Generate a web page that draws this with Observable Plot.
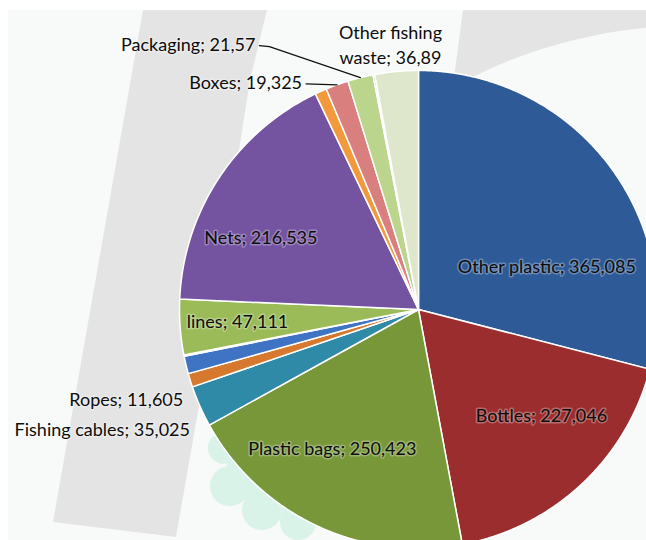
<!DOCTYPE html>
<html><head><meta charset="utf-8">
<script src="https://cdn.jsdelivr.net/npm/d3@7"></script>
<script src="https://cdn.jsdelivr.net/npm/@observablehq/plot@0.6"></script>
<style>body{margin:0;background:#fff;} #chart{width:646px;height:540px;overflow:hidden;}</style>
</head><body><div id="chart"></div>
<script>
// ---- data (clockwise from 12 o'clock) ----
const categories = ["Other plastic","Bottles","Plastic bags","Fishing cables","Ropes","Unlabeled 1","Unlabeled 2","lines","Nets","Unlabeled 3","Boxes","Packaging","Unlabeled 4","Other fishing waste"];
const values = [365085,227046,250423,35025,11605,15000,1000,47111,216535,10000,19325,21570,1500,36890];
const valueLabels = ["365,085","227,046","250,423","35,025","11,605","","","47,111","216,535","","19,325","21,57","","36,89"];
const colors = ["#2E5B98","#9B2D2E","#779739","#2E8AA6","#D7782F","#3F74C5","#C0504D","#9BBB59","#7453A1","#F29A3B","#D97F7D","#BBD58D","#8FC9EC","#DEE7CB"];

// ---- layout (pixels) ----
const W = 646, H = 540, CX = 418, CY = 309, RPX = 239;
const labelLayout = {
  "Other plastic":       {r: 0.6, dx: 15,   dy: 43,  anchor: "middle"},
  "Bottles":             {r: 0.6, dx: 25,   dy: 0,   anchor: "middle"},
  "Plastic bags":        {r: 0.6, dx: -25,  dy: 8,   anchor: "middle"},
  "Nets":                {r: 0.6, dx: -38,  dy: 6,   anchor: "middle"},
  "lines":               {r: 0.6, dx: -38,  dy: 0,   anchor: "middle"},
  "Ropes":               {r: 1.0, dx: -7,   dy: 18,  anchor: "end"},
  "Fishing cables":      {r: 1.0, dx: -10,  dy: 22,  anchor: "end"},
  "Boxes":               {r: 1.0, dx: -35,  dy: -4,  anchor: "end", leader: true},
  "Packaging":           {r: 1.0, dx: -105, dy: -35, anchor: "end", leader: true, elbow: 10},
  "Other fishing waste": {r: 1.0, dx: -6,   dy: -28, anchor: "middle", breakAfter: "Other fishing"}
};

const data = categories.map((c, i) => ({cat: c, value: values[i], vlabel: valueLabels[i]}));
const arcs = d3.pie().sort(null).value(d => d.value)(data);

// slice polygons in unit coordinates (y up)
const slicePts = [];
for (const a of arcs) {
  slicePts.push({cat: a.data.cat, x: 0, y: 0});
  const n = Math.max(2, Math.ceil((a.endAngle - a.startAngle) / 0.004));
  for (let k = 0; k <= n; k++) {
    const t = a.startAngle + (a.endAngle - a.startAngle) * k / n;
    slicePts.push({cat: a.data.cat, x: Math.sin(t), y: Math.cos(t)});
  }
}

const labelsMid = [], labelsEnd = [], leaders = [];
for (const a of arcs) {
  const L = labelLayout[a.data.cat];
  if (!L) continue;
  const mid = (a.startAngle + a.endAngle) / 2;
  const bx = Math.sin(mid) * L.r, by = Math.cos(mid) * L.r;
  const x = bx + L.dx / RPX, y = by - L.dy / RPX;
  let text = a.data.cat + "; " + a.data.vlabel;
  if (L.breakAfter) text = text.replace(L.breakAfter + " ", L.breakAfter + "\n");
  (L.anchor === "end" ? labelsEnd : labelsMid).push({x, y, text});
  if (L.leader) {
    const sx = x + 4 / RPX, sy = y - 3 / RPX;
    leaders.push({cat: a.data.cat, x: sx, y: sy});
    if (L.elbow) leaders.push({cat: a.data.cat, x: sx + L.elbow / RPX, y: sy - 1 / RPX});
    leaders.push({cat: a.data.cat, x: bx, y: by});
  }
}

const textStyle = {fontSize: 18, fill: "#0d0d0d", stroke: "white", strokeOpacity: 0.3, strokeWidth: 3, lineHeight: 1.4};

const plot = Plot.plot({
  width: W, height: H, margin: 0,
  x: {domain: [-CX / RPX, (W - CX) / RPX], axis: null},
  y: {domain: [-(H - CY) / RPX, CY / RPX], axis: null},
  color: {domain: categories, range: colors},
  style: {background: "transparent", fontFamily: "Lato, 'Open Sans', sans-serif"},
  marks: [
    Plot.line(slicePts, {x: "x", y: "y", z: "cat", fill: "cat", stroke: "white", strokeWidth: 1.5, curve: "linear-closed"}),
    Plot.line(leaders, {x: "x", y: "y", z: "cat", stroke: "#111", strokeWidth: 1.2}),
    Plot.text(labelsMid, {x: "x", y: "y", text: "text", textAnchor: "middle", ...textStyle}),
    Plot.text(labelsEnd, {x: "x", y: "y", text: "text", textAnchor: "end", ...textStyle})
  ]
});

// decorative background (watermark shapes behind the chart)
const svg = d3.select(plot);
const g = svg.insert("g", ":first-child");
g.append("rect").attr("width", W).attr("height", H).attr("fill", "#ffffff");
g.append("rect").attr("x", 8).attr("y", 10).attr("width", W - 8).attr("height", H - 10).attr("fill", "#F8FAF9");
g.append("polygon").attr("points", "143,10 267,10 250,80 200,400 176,537 53,522").attr("fill", "#E4E4E4");
g.append("polygon").attr("points", "463,10 646,10 646,320 422,320").attr("fill", "#E4E4E4");
g.append("ellipse").attr("cx", 700).attr("cy", 330).attr("rx", 407).attr("ry", 305).attr("fill", "#F8FAF9");
g.append("polygon").attr("points", "212,432 224,448 230,486 262,510 298,522 330,480 260,440").attr("fill", "#DAF3E8");
for (const [cx, cy, r] of [[224, 448, 16], [230, 486, 20], [262, 510, 20], [298, 522, 18]]) {
  g.append("circle").attr("cx", cx).attr("cy", cy).attr("r", r).attr("fill", "#DAF3E8");
}

document.getElementById("chart").appendChild(plot);
</script>
</body></html>
